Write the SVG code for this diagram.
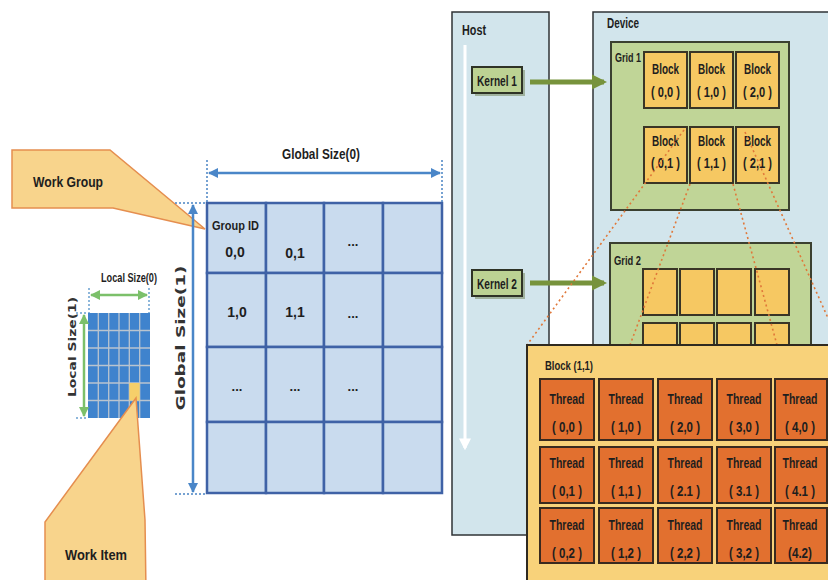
<svg xmlns="http://www.w3.org/2000/svg" width="828" height="580" viewBox="0 0 828 580">
<style>
text{font-family:"Liberation Sans","DejaVu Sans",sans-serif;fill:#1e1e1e;font-weight:bold}
.t15{font-size:15px}
.t14{font-size:14px}
.t13{font-size:13px}
.t12{font-size:12px}
.c{text-anchor:middle}
.gcell{fill:#c9dbee;stroke:#3f62a6;stroke-width:2.5}
.callout{fill:#f8d48c;stroke:#e58e4f;stroke-width:1.5}
.panel{fill:#d2e5ec;stroke:#2f3336;stroke-width:1.5}
.grid{fill:#c0d597;stroke:#3b4030;stroke-width:2}
.blk{fill:#f6c862;stroke:#3a3526;stroke-width:2}
.thr{fill:#e2702f;stroke:#3a2a1f;stroke-width:2}
.kern{fill:#bcd293;stroke:#2f3326;stroke-width:2}
.dash{stroke:#e0783a;stroke-width:1.6;stroke-dasharray:2 3;fill:none}
.dot{stroke:#4a84c4;stroke-width:1.5;stroke-dasharray:2 2;fill:none}
.gdot{stroke:#6aa0d0;stroke-width:1.5;stroke-dasharray:2 2;fill:none}
</style>
<defs>
<marker id="bh" viewBox="0 0 10 10" refX="9" refY="5" markerWidth="4" markerHeight="4" orient="auto-start-reverse"><path d="M0,0 L10,5 L0,10 z" fill="#4a86c8"/></marker>
<marker id="gh" viewBox="0 0 10 10" refX="9" refY="5" markerWidth="4" markerHeight="4" orient="auto-start-reverse"><path d="M0,0 L10,5 L0,10 z" fill="#7cc06a"/></marker>
<marker id="kh" viewBox="0 0 10 10" refX="8" refY="5" markerWidth="3" markerHeight="3.4" orient="auto"><path d="M0,0 L10,5 L0,10 z" fill="#77933c"/></marker>
<marker id="wh" viewBox="0 0 10 10" refX="8" refY="5" markerWidth="4" markerHeight="4" orient="auto"><path d="M0,0 L10,5 L0,10 z" fill="#ffffff"/></marker>
</defs>
<rect width="828" height="580" fill="#ffffff"/>

<g id="workgroup">
<polygon class="callout" points="12,150 110,150 205,229 113,208 12,208"/>
<text class="t15" x="33" y="187" textLength="70" lengthAdjust="spacingAndGlyphs">Work Group</text>
</g>

<g id="global-grid">
<rect class="gcell" x="207" y="203" width="59" height="70"/>
<rect class="gcell" x="266" y="203" width="58" height="70"/>
<rect class="gcell" x="324" y="203" width="59" height="70"/>
<rect class="gcell" x="383" y="203" width="59" height="70"/>
<rect class="gcell" x="207" y="273" width="59" height="74"/>
<rect class="gcell" x="266" y="273" width="58" height="74"/>
<rect class="gcell" x="324" y="273" width="59" height="74"/>
<rect class="gcell" x="383" y="273" width="59" height="74"/>
<rect class="gcell" x="207" y="347" width="59" height="75"/>
<rect class="gcell" x="266" y="347" width="58" height="75"/>
<rect class="gcell" x="324" y="347" width="59" height="75"/>
<rect class="gcell" x="383" y="347" width="59" height="75"/>
<rect class="gcell" x="207" y="422" width="59" height="71"/>
<rect class="gcell" x="266" y="422" width="58" height="71"/>
<rect class="gcell" x="324" y="422" width="59" height="71"/>
<rect class="gcell" x="383" y="422" width="59" height="71"/>
<text class="t13" x="212" y="230" textLength="47" lengthAdjust="spacingAndGlyphs">Group ID</text>
<text class="t14 c" x="235" y="257">0,0</text>
<text class="t14 c" x="295" y="258">0,1</text>
<text class="t13 c" x="353" y="246">...</text>
<text class="t14 c" x="237" y="317">1,0</text>
<text class="t14 c" x="295" y="317">1,1</text>
<text class="t13 c" x="353" y="318">...</text>
<text class="t13 c" x="237" y="391">...</text>
<text class="t13 c" x="295" y="391">...</text>
<text class="t13 c" x="353" y="391">...</text>
</g>

<g id="global-size-0">
<path class="dot" d="M207,160 V203 M442,160 V203"/>
<line x1="209" y1="173" x2="440" y2="173" stroke="#4a86c8" stroke-width="2.5" marker-start="url(#bh)" marker-end="url(#bh)"/>
<text class="t15" x="282" y="159" textLength="78" lengthAdjust="spacingAndGlyphs">Global Size(0)</text>
</g>

<g id="global-size-1">
<path class="dot" d="M175,203 H207 M175,494 H207"/>
<line x1="193" y1="205" x2="193" y2="492" stroke="#4a86c8" stroke-width="2.5" marker-start="url(#bh)" marker-end="url(#bh)"/>
<text x="0" y="0" transform="translate(185,338) rotate(-90)" text-anchor="middle" font-size="13" style="font-family:'DejaVu Sans',sans-serif;fill:#333" textLength="145" lengthAdjust="spacingAndGlyphs">Global Size(1)</text>
</g>

<g id="local-grid">
<rect x="88" y="313" width="62" height="105" fill="#3f83cd"/>
<path d="M98.3,313 V418 M108.7,313 V418 M119,313 V418 M129.3,313 V418 M139.7,313 V418 M88,330.5 H150 M88,348 H150 M88,365.5 H150 M88,383 H150 M88,400.5 H150" stroke="#b9c4cf" stroke-width="1.3"/>
<rect x="129.3" y="383" width="10.4" height="17.5" fill="#f6cf6a"/>
</g>

<g id="local-size-0">
<path class="gdot" d="M89,288 V313 M149,288 V313"/>
<line x1="91" y1="295" x2="147" y2="295" stroke="#7cc06a" stroke-width="2.5" marker-start="url(#gh)" marker-end="url(#gh)"/>
<text class="t13" x="101" y="282" textLength="56" lengthAdjust="spacingAndGlyphs">Local Size(0)</text>
</g>
<g id="local-size-1">
<path class="gdot" d="M76,313 H88 M76,418 H88"/>
<line x1="84" y1="315" x2="84" y2="416" stroke="#7cc06a" stroke-width="2.5" marker-start="url(#gh)" marker-end="url(#gh)"/>
<text x="0" y="0" transform="translate(76,347) rotate(-90)" text-anchor="middle" font-size="11" style="font-family:'DejaVu Sans',sans-serif;fill:#333" textLength="100" lengthAdjust="spacingAndGlyphs">Local Size(1)</text>
</g>

<g id="workitem">
<polygon class="callout" points="136,398 45,522 45,592 146,592 145,520"/>
<text class="t15" x="65" y="560" textLength="62" lengthAdjust="spacingAndGlyphs">Work Item</text>
</g>

<g id="host">
<rect class="panel" x="452" y="12" width="97" height="523"/>
<text class="t14" x="462" y="35" textLength="24" lengthAdjust="spacingAndGlyphs">Host</text>
<line x1="465" y1="45" x2="465" y2="448" stroke="#ffffff" stroke-width="3" marker-end="url(#wh)"/>
</g>

<g id="device">
<rect class="panel" x="593" y="12" width="250" height="600"/>
<text class="t14" x="607" y="28" textLength="32" lengthAdjust="spacingAndGlyphs">Device</text>
</g>

<g id="kernel1">
<rect x="475" y="70" width="50" height="26" fill="#7f8f6a" opacity="0.6"/>
<rect class="kern" x="472" y="67" width="50" height="26"/>
<text class="t14" x="477" y="86" textLength="40" lengthAdjust="spacingAndGlyphs">Kernel 1</text>
</g>
<g id="kernel2">
<rect x="475" y="273" width="50" height="26" fill="#7f8f6a" opacity="0.6"/>
<rect class="kern" x="472" y="270" width="50" height="26"/>
<text class="t14" x="477" y="289" textLength="40" lengthAdjust="spacingAndGlyphs">Kernel 2</text>
</g>

<g id="grid1">
<rect class="grid" x="611" y="42" width="178" height="168"/>
<text class="t13" x="615" y="62" textLength="26" lengthAdjust="spacingAndGlyphs">Grid 1</text>
<rect class="blk" x="644" y="52" width="43" height="56"/>
<rect class="blk" x="690" y="52" width="43" height="56"/>
<rect class="blk" x="736" y="52" width="43" height="56"/>
<rect class="blk" x="644" y="127" width="43" height="56"/>
<rect class="blk" x="690" y="127" width="43" height="56"/>
<rect class="blk" x="736" y="127" width="43" height="56"/>
<g class="t15">
<text class="c" x="665.5" y="74" textLength="27" lengthAdjust="spacingAndGlyphs">Block</text>
<text class="c" x="665.5" y="97" textLength="29" lengthAdjust="spacingAndGlyphs">( 0,0 )</text>
<text class="c" x="711.5" y="74" textLength="27" lengthAdjust="spacingAndGlyphs">Block</text>
<text class="c" x="711.5" y="97" textLength="29" lengthAdjust="spacingAndGlyphs">( 1,0 )</text>
<text class="c" x="757.5" y="74" textLength="27" lengthAdjust="spacingAndGlyphs">Block</text>
<text class="c" x="757.5" y="97" textLength="29" lengthAdjust="spacingAndGlyphs">( 2,0 )</text>
<text class="c" x="665.5" y="146" textLength="27" lengthAdjust="spacingAndGlyphs">Block</text>
<text class="c" x="665.5" y="168" textLength="29" lengthAdjust="spacingAndGlyphs">( 0,1 )</text>
<text class="c" x="711.5" y="146" textLength="27" lengthAdjust="spacingAndGlyphs">Block</text>
<text class="c" x="711.5" y="168" textLength="29" lengthAdjust="spacingAndGlyphs">( 1,1 )</text>
<text class="c" x="757.5" y="146" textLength="27" lengthAdjust="spacingAndGlyphs">Block</text>
<text class="c" x="757.5" y="168" textLength="29" lengthAdjust="spacingAndGlyphs">( 2,1 )</text>
</g>
</g>

<g id="grid2">
<rect class="grid" x="610" y="243" width="201" height="120"/>
<text class="t13" x="614" y="265" textLength="27" lengthAdjust="spacingAndGlyphs">Grid 2</text>
<rect class="blk" x="643" y="269" width="34" height="46"/>
<rect class="blk" x="680" y="269" width="34" height="46"/>
<rect class="blk" x="717" y="269" width="34" height="46"/>
<rect class="blk" x="755" y="269" width="34" height="46"/>
<rect class="blk" x="643" y="323" width="34" height="46"/>
<rect class="blk" x="680" y="323" width="34" height="46"/>
<rect class="blk" x="717" y="323" width="34" height="46"/>
<rect class="blk" x="755" y="323" width="34" height="46"/>
</g>

<g id="connectors">
<line x1="530" y1="82" x2="604" y2="82" stroke="#77933c" stroke-width="5" marker-end="url(#kh)"/>
<line x1="530" y1="283" x2="604" y2="283" stroke="#77933c" stroke-width="5" marker-end="url(#kh)"/>
<line class="dash" x1="684" y1="130" x2="527" y2="345"/>
<line class="dash" x1="690" y1="184" x2="630" y2="345"/>
<line class="dash" x1="733" y1="184" x2="777" y2="345"/>
<line class="dash" x1="745" y1="132" x2="840" y2="345"/>
</g>

<g id="block11">
<rect x="527" y="345" width="320" height="260" fill="#f8d27a" stroke="#2f2a20" stroke-width="2"/>
<text class="t13" x="545" y="370" textLength="48" lengthAdjust="spacingAndGlyphs">Block (1,1)</text>
<rect class="thr" x="540" y="379" width="54" height="61"/>
<rect class="thr" x="599" y="379" width="54" height="61"/>
<rect class="thr" x="658" y="379" width="54" height="61"/>
<rect class="thr" x="717" y="379" width="54" height="61"/>
<rect class="thr" x="775" y="379" width="52" height="61"/>
<rect class="thr" x="540" y="447" width="54" height="56"/>
<rect class="thr" x="599" y="447" width="54" height="56"/>
<rect class="thr" x="658" y="447" width="54" height="56"/>
<rect class="thr" x="717" y="447" width="54" height="56"/>
<rect class="thr" x="775" y="447" width="52" height="56"/>
<rect class="thr" x="540" y="508" width="54" height="55"/>
<rect class="thr" x="599" y="508" width="54" height="55"/>
<rect class="thr" x="658" y="508" width="54" height="55"/>
<rect class="thr" x="717" y="508" width="54" height="55"/>
<rect class="thr" x="775" y="508" width="52" height="55"/>
<g class="t15">
<text class="c" x="567" y="404" textLength="35" lengthAdjust="spacingAndGlyphs">Thread</text><text class="c" x="567" y="432" textLength="30" lengthAdjust="spacingAndGlyphs">( 0,0 )</text>
<text class="c" x="626" y="404" textLength="35" lengthAdjust="spacingAndGlyphs">Thread</text><text class="c" x="626" y="432" textLength="30" lengthAdjust="spacingAndGlyphs">( 1,0 )</text>
<text class="c" x="685" y="404" textLength="35" lengthAdjust="spacingAndGlyphs">Thread</text><text class="c" x="685" y="432" textLength="30" lengthAdjust="spacingAndGlyphs">( 2,0 )</text>
<text class="c" x="744" y="404" textLength="35" lengthAdjust="spacingAndGlyphs">Thread</text><text class="c" x="744" y="432" textLength="30" lengthAdjust="spacingAndGlyphs">( 3,0 )</text>
<text class="c" transform="translate(800,404) scale(0.7,1)">Thread</text><text class="c" x="800" y="432" textLength="30" lengthAdjust="spacingAndGlyphs">( 4,0 )</text>
<text class="c" x="567" y="468" textLength="35" lengthAdjust="spacingAndGlyphs">Thread</text><text class="c" x="567" y="496" textLength="30" lengthAdjust="spacingAndGlyphs">( 0,1 )</text>
<text class="c" x="626" y="468" textLength="35" lengthAdjust="spacingAndGlyphs">Thread</text><text class="c" x="626" y="496" textLength="30" lengthAdjust="spacingAndGlyphs">( 1,1 )</text>
<text class="c" x="685" y="468" textLength="35" lengthAdjust="spacingAndGlyphs">Thread</text><text class="c" x="685" y="496" textLength="30" lengthAdjust="spacingAndGlyphs">( 2.1 )</text>
<text class="c" x="744" y="468" textLength="35" lengthAdjust="spacingAndGlyphs">Thread</text><text class="c" x="744" y="496" textLength="30" lengthAdjust="spacingAndGlyphs">( 3.1 )</text>
<text class="c" transform="translate(800,468) scale(0.7,1)">Thread</text><text class="c" x="800" y="496" textLength="30" lengthAdjust="spacingAndGlyphs">( 4.1 )</text>
<text class="c" x="567" y="530" textLength="35" lengthAdjust="spacingAndGlyphs">Thread</text><text class="c" x="567" y="558" textLength="30" lengthAdjust="spacingAndGlyphs">( 0,2 )</text>
<text class="c" x="626" y="530" textLength="35" lengthAdjust="spacingAndGlyphs">Thread</text><text class="c" x="626" y="558" textLength="30" lengthAdjust="spacingAndGlyphs">( 1,2 )</text>
<text class="c" x="685" y="530" textLength="35" lengthAdjust="spacingAndGlyphs">Thread</text><text class="c" x="685" y="558" textLength="30" lengthAdjust="spacingAndGlyphs">( 2,2 )</text>
<text class="c" x="744" y="530" textLength="35" lengthAdjust="spacingAndGlyphs">Thread</text><text class="c" x="744" y="558" textLength="30" lengthAdjust="spacingAndGlyphs">( 3,2 )</text>
<text class="c" transform="translate(800,530) scale(0.7,1)">Thread</text><text class="c" x="800" y="558" textLength="24" lengthAdjust="spacingAndGlyphs">(4.2)</text>
</g>
</g>
</svg>
